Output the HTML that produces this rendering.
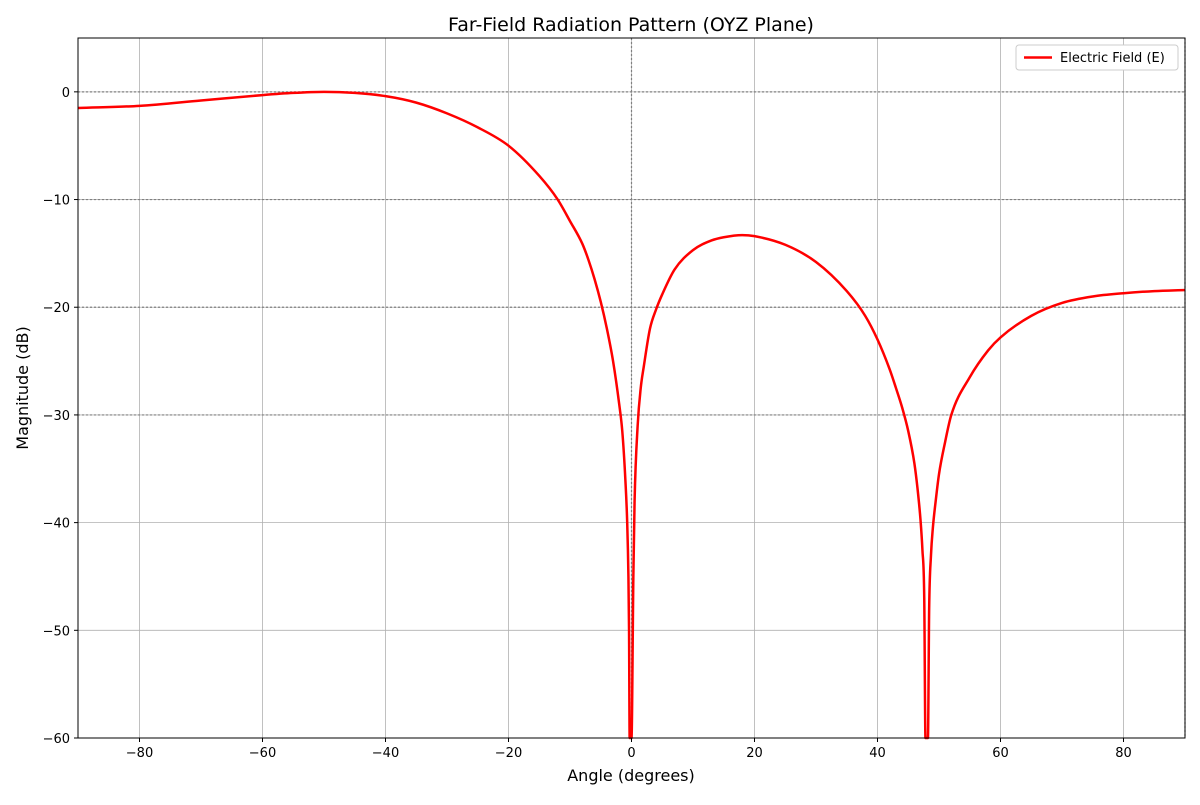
<!DOCTYPE html>
<html><head><meta charset="utf-8"><style>
body{margin:0;background:#fff;font-family:"Liberation Sans","DejaVu Sans",sans-serif}
</style></head><body>
<svg id="chart" width="1200" height="800" xmlns="http://www.w3.org/2000/svg" font-family="DejaVu Sans, Liberation Sans, sans-serif">
<rect width="1200" height="800" fill="#fff"/>
<g id="grid"></g><g id="ref"></g><g id="series"></g><g id="axes"></g>
<text x="631" y="31" text-anchor="middle" font-size="19">Far-Field Radiation Pattern (OYZ Plane)</text>
<text x="631" y="781" text-anchor="middle" font-size="16">Angle (degrees)</text>
<text transform="translate(28,388) rotate(-90)" text-anchor="middle" font-size="16">Magnitude (dB)</text>
<g>
<rect x="1016" y="45" width="162" height="25" fill="#fff" stroke="#ccc" rx="3"/>
<line x1="1024" y1="57.5" x2="1052" y2="57.5" stroke="red" stroke-width="2.5"/>
<text x="1060" y="62" font-size="13">Electric Field (E)</text>
</g>
</svg>
<script>
const angles=[-90,-80,-70,-60,-55,-50,-45,-40,-35,-30,-25,-20,-15,-12,-10,-8,-7,-6,-5,-4,-3,-2,-1.5,-1,-0.7,-0.5,-0.4,-0.3,0,0.3,0.5,1,1.5,2,3,4,5,7,10,13,15,18,20,25,30,35,38,40,42,43,44,45,46,46.5,47,47.3,47.6,47.8,48.2,48.4,48.7,49,49.5,50,51,52,55,58,60,65,70,75,80,85,90];
const magnitudes=[-1.5,-1.3,-0.8,-0.3,-0.1,0,-0.1,-0.4,-1.0,-2.0,-3.3,-5.0,-7.8,-10,-12,-14.1,-15.6,-17.4,-19.5,-22,-25,-29,-31.5,-36,-40,-45,-50,-60,-60,-45,-38,-31,-27.5,-25.5,-22,-20.2,-18.8,-16.5,-14.7,-13.8,-13.5,-13.3,-13.4,-14.2,-15.8,-18.5,-20.8,-23,-25.8,-27.5,-29.3,-31.5,-34.5,-36.8,-39.8,-42.5,-47,-60,-60,-48,-43,-40.5,-37.8,-35.5,-32.5,-30,-26.5,-24,-22.8,-20.8,-19.6,-19,-18.7,-18.5,-18.4];
const xTicks=[-80,-60,-40,-20,0,20,40,60,80];
const yTicks=[0,-10,-20,-30,-40,-50,-60];
const refY=[0,-10,-20,-30];
const refX=[0,90];
const L=78,R=1185,T=38,B=738,xMin=-90,xMax=90,yMin=-60,yMax=5;
const X=v=>L+(v-xMin)/(xMax-xMin)*(R-L);
const Y=v=>B-(v-yMin)/(yMax-yMin)*(B-T);
const NS="http://www.w3.org/2000/svg";
function mk(p,t,a){const e=document.createElementNS(NS,t);for(const k in a)e.setAttribute(k,a[k]);p.appendChild(e);return e;}
const grid=document.getElementById('grid'),axes=document.getElementById('axes'),ref=document.getElementById('ref'),series=document.getElementById('series');
xTicks.forEach(v=>{
 const g=mk(grid,'line',{x1:X(v),x2:X(v),y1:T,y2:B,stroke:'#b0b0b0','stroke-width':0.8});
 
 
 mk(axes,'line',{x1:X(v),x2:X(v),y1:B,y2:B+4,stroke:'#000'});
 const t=mk(axes,'text',{x:X(v),y:B+19,'text-anchor':'middle','font-size':13});
 t.textContent=(v<0?'\u2212'+(-v):v);
 
 
});
yTicks.forEach(v=>{
 const g=mk(grid,'line',{x1:L,x2:R,y1:Y(v),y2:Y(v),stroke:'#b0b0b0','stroke-width':0.8});
 
 
 mk(axes,'line',{x1:L-4,x2:L,y1:Y(v),y2:Y(v),stroke:'#000'});
 const t=mk(axes,'text',{x:L-8,y:Y(v)+5,'text-anchor':'end','font-size':13});
 t.textContent=(v<0?'\u2212'+(-v):v);
 
 
});
refY.forEach(v=>{
 const l=mk(ref,'line',{x1:L,x2:R,y1:Y(v),y2:Y(v),stroke:'#808080','stroke-width':1.2,'stroke-dasharray':'2,2'});
 
 
});
refX.forEach(v=>{
 const l=mk(ref,'line',{x1:X(v),x2:X(v),y1:T,y2:B,stroke:'#808080','stroke-width':1.2,'stroke-dasharray':'2,2'});
 
 
});
const xs=angles.map(X), ys=magnitudes.map(m=>Y(Math.max(yMin,m)));
const n=xs.length, d=[], m=new Array(n);
for(let i=0;i<n-1;i++) d.push((ys[i+1]-ys[i])/(xs[i+1]-xs[i]));
m[0]=d[0]; m[n-1]=d[n-2];
for(let i=1;i<n-1;i++){ m[i]=(d[i-1]*d[i]<=0)?0:(d[i-1]+d[i])/2; }
for(let i=0;i<n-1;i++){
 if(d[i]===0){m[i]=0;m[i+1]=0;continue;}
 const a=m[i]/d[i], b=m[i+1]/d[i], s=a*a+b*b;
 if(s>9){const t=3/Math.sqrt(s); m[i]=t*a*d[i]; m[i+1]=t*b*d[i];}
}
let path='M'+xs[0].toFixed(2)+','+ys[0].toFixed(2);
for(let i=0;i<n-1;i++){
 const h=xs[i+1]-xs[i];
 path+=' C'+(xs[i]+h/3).toFixed(2)+','+(ys[i]+m[i]*h/3).toFixed(2)+' '+(xs[i+1]-h/3).toFixed(2)+','+(ys[i+1]-m[i+1]*h/3).toFixed(2)+' '+xs[i+1].toFixed(2)+','+ys[i+1].toFixed(2);
}
const p=mk(series,'path',{d:path,fill:'none',stroke:'red','stroke-width':2.5,'stroke-linejoin':'round'});


const f=mk(axes,'rect',{x:L,y:T,width:R-L,height:B-T,fill:'none',stroke:'#000','stroke-width':1});


</script>
</body></html>
